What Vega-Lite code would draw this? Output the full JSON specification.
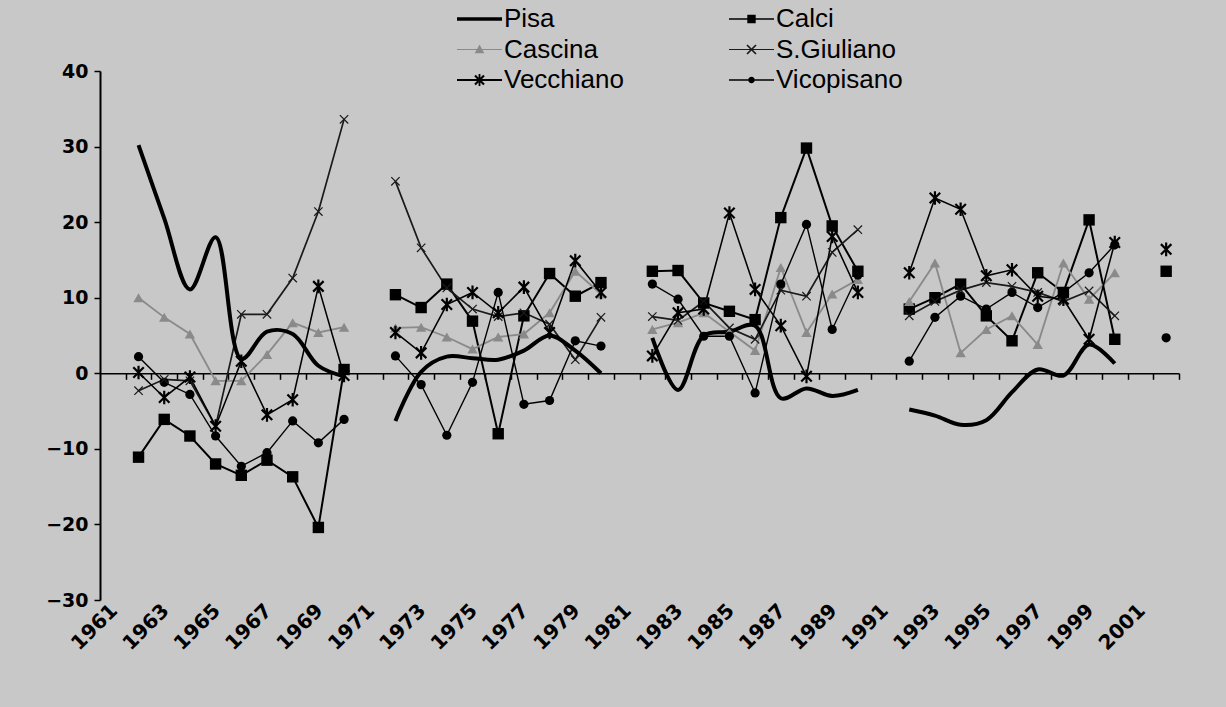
{
  "$schema": "https://vega.github.io/schema/vega-lite/v6.json",
  "width": 1079,
  "height": 529,
  "autosize": {"type": "none"},
  "padding": {"left": 100, "top": 71, "right": 47, "bottom": 107},
  "background": "#c8c8c8",
  "config": {"view": {"stroke": null}, "font": "Liberation Sans"},
  "data": {
    "values": [
      {"year": 1962, "block": 1, "Pisa": 30.2, "Calci": -11.1, "Cascina": 10.0, "SGiuliano": -2.3, "Vecchiano": 0.1, "Vicopisano": 2.2},
      {"year": 1963, "block": 1, "Pisa": 20.5, "Calci": -6.1, "Cascina": 7.4, "SGiuliano": -0.8, "Vecchiano": -3.2, "Vicopisano": -1.2},
      {"year": 1964, "block": 1, "Pisa": 11.1, "Calci": -8.3, "Cascina": 5.2, "SGiuliano": -1.0, "Vecchiano": -0.5, "Vicopisano": -2.8},
      {"year": 1965, "block": 1, "Pisa": 18.0, "Calci": -12.0, "Cascina": -1.0, "SGiuliano": -7.0, "Vecchiano": -7.0, "Vicopisano": -8.3},
      {"year": 1966, "block": 1, "Pisa": 1.9, "Calci": -13.5, "Cascina": -1.0, "SGiuliano": 7.8, "Vecchiano": 1.6, "Vicopisano": -12.3},
      {"year": 1967, "block": 1, "Pisa": 5.5, "Calci": -11.5, "Cascina": 2.5, "SGiuliano": 7.8, "Vecchiano": -5.5, "Vicopisano": -10.5},
      {"year": 1968, "block": 1, "Pisa": 5.2, "Calci": -13.7, "Cascina": 6.7, "SGiuliano": 12.6, "Vecchiano": -3.5, "Vicopisano": -6.3},
      {"year": 1969, "block": 1, "Pisa": 1.0, "Calci": -20.4, "Cascina": 5.4, "SGiuliano": 21.4, "Vecchiano": 11.5, "Vicopisano": -9.2},
      {"year": 1970, "block": 1, "Pisa": -0.4, "Calci": 0.5, "Cascina": 6.1, "SGiuliano": 33.6, "Vecchiano": -0.3, "Vicopisano": -6.1},
      {"year": 1972, "block": 2, "Pisa": -6.3, "Calci": 10.4, "Cascina": 6.0, "SGiuliano": 25.4, "Vecchiano": 5.4, "Vicopisano": 2.3},
      {"year": 1973, "block": 2, "Pisa": 0.2, "Calci": 8.7, "Cascina": 6.1, "SGiuliano": 16.6, "Vecchiano": 2.7, "Vicopisano": -1.5},
      {"year": 1974, "block": 2, "Pisa": 2.2, "Calci": 11.8, "Cascina": 4.8, "SGiuliano": 11.3, "Vecchiano": 9.1, "Vicopisano": -8.2},
      {"year": 1975, "block": 2, "Pisa": 2.0, "Calci": 6.9, "Cascina": 3.2, "SGiuliano": 8.5, "Vecchiano": 10.7, "Vicopisano": -1.2},
      {"year": 1976, "block": 2, "Pisa": 1.8, "Calci": -8.0, "Cascina": 4.8, "SGiuliano": 7.5, "Vecchiano": 8.0, "Vicopisano": 10.7},
      {"year": 1977, "block": 2, "Pisa": 3.0, "Calci": 7.6, "Cascina": 5.2, "SGiuliano": 8.0, "Vecchiano": 11.4, "Vicopisano": -4.1},
      {"year": 1978, "block": 2, "Pisa": 5.0, "Calci": 13.2, "Cascina": 8.0, "SGiuliano": 6.5, "Vecchiano": 5.4, "Vicopisano": -3.6},
      {"year": 1979, "block": 2, "Pisa": 3.0, "Calci": 10.2, "Cascina": 13.5, "SGiuliano": 1.8, "Vecchiano": 14.9, "Vicopisano": 4.3},
      {"year": 1980, "block": 2, "Pisa": 0.0, "Calci": 12.0, "Cascina": 10.5, "SGiuliano": 7.4, "Vecchiano": 10.7, "Vicopisano": 3.6},
      {"year": 1982, "block": 3, "Pisa": 4.7, "Calci": 13.5, "Cascina": 5.8, "SGiuliano": 7.5, "Vecchiano": 2.3, "Vicopisano": 11.8},
      {"year": 1983, "block": 3, "Pisa": -2.2, "Calci": 13.6, "Cascina": 6.7, "SGiuliano": 7.0, "Vecchiano": 8.0, "Vicopisano": 9.8},
      {"year": 1984, "block": 3, "Pisa": 5.0, "Calci": 9.3, "Cascina": 8.0, "SGiuliano": 9.5, "Vecchiano": 8.5, "Vicopisano": 4.9},
      {"year": 1985, "block": 3, "Pisa": 5.5, "Calci": 8.2, "Cascina": 5.5, "SGiuliano": 6.0, "Vecchiano": 21.2, "Vicopisano": 4.9},
      {"year": 1986, "block": 3, "Pisa": 6.3, "Calci": 7.1, "Cascina": 3.0, "SGiuliano": 4.5, "Vecchiano": 11.1, "Vicopisano": -2.6},
      {"year": 1987, "block": 3, "Pisa": -3.3, "Calci": 20.6, "Cascina": 14.0, "SGiuliano": 11.0, "Vecchiano": 6.3, "Vicopisano": 11.8},
      {"year": 1988, "block": 3, "Pisa": -2.0, "Calci": 29.8, "Cascina": 5.4, "SGiuliano": 10.2, "Vecchiano": -0.4, "Vicopisano": 19.7},
      {"year": 1989, "block": 3, "Pisa": -3.0, "Calci": 19.5, "Cascina": 10.5, "SGiuliano": 16.0, "Vecchiano": 18.1, "Vicopisano": 5.8},
      {"year": 1990, "block": 3, "Pisa": -2.2, "Calci": 13.5, "Cascina": 12.4, "SGiuliano": 19.0, "Vecchiano": 10.7, "Vicopisano": 13.0},
      {"year": 1992, "block": 4, "Pisa": -4.8, "Calci": 8.5, "Cascina": 9.5, "SGiuliano": 7.6, "Vecchiano": 13.3, "Vicopisano": 1.6},
      {"year": 1993, "block": 4, "Pisa": -5.6, "Calci": 10.0, "Cascina": 14.6, "SGiuliano": 9.5, "Vecchiano": 23.2, "Vicopisano": 7.4},
      {"year": 1994, "block": 4, "Pisa": -6.8, "Calci": 11.8, "Cascina": 2.7, "SGiuliano": 11.0, "Vecchiano": 21.7, "Vicopisano": 10.2},
      {"year": 1995, "block": 4, "Pisa": -6.2, "Calci": 7.6, "Cascina": 5.8, "SGiuliano": 12.0, "Vecchiano": 12.9, "Vicopisano": 8.5},
      {"year": 1996, "block": 4, "Pisa": -2.5, "Calci": 4.3, "Cascina": 7.6, "SGiuliano": 11.5, "Vecchiano": 13.7, "Vicopisano": 10.7},
      {"year": 1997, "block": 4, "Pisa": 0.5, "Calci": 13.3, "Cascina": 3.8, "SGiuliano": 10.7, "Vecchiano": 10.2, "Vicopisano": 8.7},
      {"year": 1998, "block": 4, "Pisa": -0.3, "Calci": 10.7, "Cascina": 14.6, "SGiuliano": 9.5, "Vecchiano": 9.8, "Vicopisano": 10.7},
      {"year": 1999, "block": 4, "Pisa": 3.8, "Calci": 20.3, "Cascina": 9.8, "SGiuliano": 10.9, "Vecchiano": 4.5, "Vicopisano": 13.3},
      {"year": 2000, "block": 4, "Pisa": 1.3, "Calci": 4.5, "Cascina": 13.3, "SGiuliano": 7.6, "Vecchiano": 17.3, "Vicopisano": 17.0},
      {"year": 2002, "block": 5, "Calci": 13.5, "Vecchiano": 16.4, "Vicopisano": 4.7}
    ]
  },
  "transform": [
    {"fold": ["Pisa", "Calci", "Cascina", "SGiuliano", "Vecchiano", "Vicopisano"], "as": ["series", "value"]},
    {"filter": "isValid(datum.value)"}
  ],
  "encoding": {
    "y": {
      "field": "value",
      "type": "quantitative",
      "scale": {"domain": [-30, 40], "nice": false, "zero": false},
      "axis": {
        "values": [-30, -20, -10, 0, 10, 20, 30, 40],
        "title": null,
        "grid": false,
        "domainColor": "black",
        "domainWidth": 2,
        "tickColor": "black",
        "tickWidth": 1.5,
        "tickSize": 6,
        "labelFont": "DejaVu Sans",
        "labelFontWeight": "bold",
        "labelFontSize": 19,
        "labelColor": "black",
        "labelPadding": 6
      }
    }
  },
  "layer": [
    {
      "transform": [{"filter": "datum.series !== 'Pisa'"}],
      "mark": {"type": "line", "interpolate": "linear"},
      "encoding": {
        "x": {
          "field": "year",
          "type": "ordinal",
          "scale": {"type": "point", "padding": 0.5, "domain": [1961,1962,1963,1964,1965,1966,1967,1968,1969,1970,1971,1972,1973,1974,1975,1976,1977,1978,1979,1980,1981,1982,1983,1984,1985,1986,1987,1988,1989,1990,1991,1992,1993,1994,1995,1996,1997,1998,1999,2000,2001,2002]},
          "axis": {
            "values": [1961,1963,1965,1967,1969,1971,1973,1975,1977,1979,1981,1983,1985,1987,1989,1991,1993,1995,1997,1999,2001],
            "title": null,
            "domain": false,
            "ticks": false,
            "grid": false,
            "labelAngle": -45,
            "labelFont": "DejaVu Sans",
            "labelFontWeight": "bold",
            "labelFontSize": 20,
            "labelColor": "black",
            "labelPadding": 0,
            "labelOffset": -6
          }
        },
        "detail": {"field": "block", "type": "nominal"},
        "color": {
          "field": "series",
          "type": "nominal",
          "scale": {"domain": ["Calci", "Cascina", "SGiuliano", "Vecchiano", "Vicopisano"], "range": ["#000000", "#8a8a8a", "#1a1a1a", "#000000", "#000000"]},
          "legend": null
        },
        "strokeWidth": {
          "field": "series",
          "type": "ordinal",
          "scale": {"domain": ["Calci", "Cascina", "SGiuliano", "Vecchiano", "Vicopisano"], "range": [2, 1.4, 1, 2, 1.5]},
          "legend": null
        }
      }
    },
    {
      "transform": [{"filter": "datum.series === 'Pisa'"}],
      "mark": {"type": "line", "interpolate": "catmull-rom", "strokeWidth": 4, "color": "black"},
      "encoding": {
        "x": {
          "field": "year",
          "type": "ordinal",
          "scale": {"type": "point", "padding": 0.5},
          "axis": {
            "orient": "bottom",
            "labels": false,
            "title": null,
            "grid": false,
            "domain": true,
            "domainColor": "black",
            "domainWidth": 1.5,
            "ticks": true,
            "tickColor": "black",
            "tickWidth": 1.5,
            "tickSize": 6,
            "tickOffset": 12.85,
            "offset": -226.7
          }
        },
        "detail": {"field": "block", "type": "nominal"}
      }
    },
    {
      "transform": [{"filter": "datum.series === 'Calci' || datum.series === 'Cascina' || datum.series === 'Vicopisano'"}],
      "mark": {"type": "point", "filled": true, "opacity": 1},
      "encoding": {
        "x": {"field": "year", "type": "ordinal", "scale": {"type": "point", "padding": 0.5}, "axis": null},
        "shape": {
          "field": "series",
          "type": "nominal",
          "scale": {"domain": ["Calci", "Cascina", "Vicopisano"], "range": ["square", "triangle-up", "circle"]},
          "legend": null
        },
        "color": {
          "field": "series",
          "type": "nominal",
          "scale": {"domain": ["Calci", "Cascina", "Vicopisano"], "range": ["#000000", "#8a8a8a", "#000000"]},
          "legend": null
        },
        "size": {
          "field": "series",
          "type": "ordinal",
          "scale": {"domain": ["Calci", "Cascina", "Vicopisano"], "range": [130, 85, 75]},
          "legend": null
        }
      }
    },
    {
      "transform": [{"filter": "datum.series === 'SGiuliano' || datum.series === 'Vecchiano'"}],
      "mark": {"type": "point", "filled": false, "opacity": 1},
      "encoding": {
        "x": {"field": "year", "type": "ordinal", "scale": {"type": "point", "padding": 0.5}, "axis": null},
        "shape": {
          "field": "series",
          "type": "nominal",
          "scale": {"domain": ["SGiuliano", "Vecchiano"], "range": ["M-1,-1L1,1M1,-1L-1,1", "M-1,-1L1,1M1,-1L-1,1M0,-1.3V1.3"]},
          "legend": null
        },
        "color": {
          "field": "series",
          "type": "nominal",
          "scale": {"domain": ["SGiuliano", "Vecchiano"], "range": ["#1a1a1a", "#000000"]},
          "legend": null
        },
        "strokeWidth": {
          "field": "series",
          "type": "ordinal",
          "scale": {"domain": ["SGiuliano", "Vecchiano"], "range": [1.2, 2.2]},
          "legend": null
        },
        "size": {
          "field": "series",
          "type": "ordinal",
          "scale": {"domain": ["SGiuliano", "Vecchiano"], "range": [70, 110]},
          "legend": null
        }
      }
    },
    {
      "mark": {"type": "point", "filled": true, "opacity": 0},
      "encoding": {
        "x": {"field": "year", "type": "ordinal", "scale": {"type": "point", "padding": 0.5}, "axis": null},
        "shape": {
          "field": "series",
          "type": "nominal",
          "scale": {
            "domain": ["Pisa", "Calci", "Cascina", "SGiuliano", "Vecchiano", "Vicopisano"],
            "range": [
              "M-2,-0.11H1V0.11H-2Z",
              "M-2,-0.05H1V0.05H-2Z M-0.78,-0.28H-0.22V0.28H-0.78Z",
              "M-2,-0.04H1V0.04H-2Z M-0.5,-0.33L-0.18,0.25H-0.82Z",
              "M-2,-0.035H1V0.035H-2Z M-0.84,-0.26L-0.76,-0.34L-0.16,0.26L-0.24,0.34Z M-0.24,-0.34L-0.16,-0.26L-0.76,0.34L-0.84,0.26Z",
              "M-2,-0.06H1V0.06H-2Z M-0.85,-0.25L-0.75,-0.35L-0.15,0.25L-0.25,0.35Z M-0.25,-0.35L-0.15,-0.25L-0.75,0.35L-0.85,0.25Z M-0.56,-0.4H-0.44V0.4H-0.56Z",
              "M-2,-0.045H1V0.045H-2Z M-0.72,0A0.22,0.22 0 1,1 -0.28,0A0.22,0.22 0 1,1 -0.72,0Z"
            ]
          },
          "legend": {
            "title": null,
            "orient": "none",
            "direction": "horizontal",
            "legendX": 372,
            "legendY": -67,
            "columns": 2,
            "symbolSize": 900,
            "symbolOpacity": 1,
            "symbolStrokeWidth": 0,
            "labelFont": "Liberation Sans",
            "labelFontSize": 26,
            "labelColor": "black",
            "labelOffset": 2,
            "rowPadding": 2.5,
            "columnPadding": 105,
            "padding": 0,
            "labelExpr": "datum.value === 'SGiuliano' ? 'S.Giuliano' : datum.label"
          }
        },
        "color": {
          "field": "series",
          "type": "nominal",
          "scale": {
            "domain": ["Pisa", "Calci", "Cascina", "SGiuliano", "Vecchiano", "Vicopisano"],
            "range": ["#000000", "#000000", "#8a8a8a", "#1a1a1a", "#000000", "#000000"]
          },
          "legend": {
            "title": null,
            "orient": "none",
            "direction": "horizontal",
            "legendX": 372,
            "legendY": -67,
            "columns": 2,
            "symbolSize": 900,
            "symbolOpacity": 1,
            "symbolStrokeWidth": 0,
            "labelFont": "Liberation Sans",
            "labelFontSize": 26,
            "labelColor": "black",
            "labelOffset": 2,
            "rowPadding": 2.5,
            "columnPadding": 105,
            "padding": 0,
            "labelExpr": "datum.value === 'SGiuliano' ? 'S.Giuliano' : datum.label"
          }
        }
      }
    }
  ],
  "resolve": {
    "scale": {"color": "independent", "shape": "independent", "strokeWidth": "independent", "size": "independent"},
    "axis": {"x": "independent"}
  }
}
